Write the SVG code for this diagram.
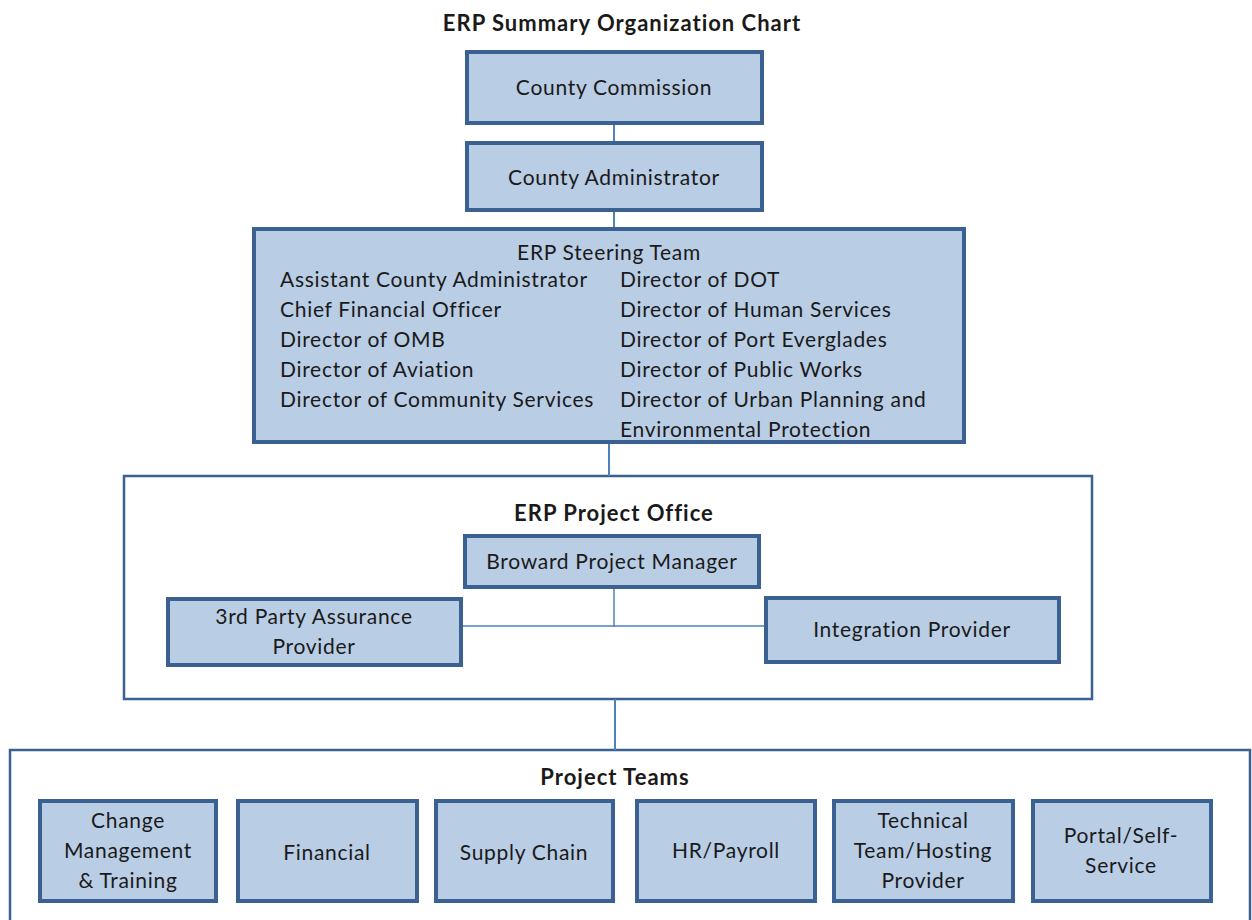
<svg xmlns="http://www.w3.org/2000/svg" width="1252" height="920" viewBox="0 0 1252 920">
  <style>
    .box { fill: #b9cde5; stroke: #3b6092; stroke-width: 4; }
    .frame { fill: #ffffff; stroke: #3b6092; stroke-width: 2.5; }
    .link { stroke: #4f81bd; stroke-width: 2; fill: none; }
    .thin { stroke: #4f81bd; stroke-width: 1.5; fill: none; }
    text { font-family: Lato, "Open Sans", "Liberation Sans", sans-serif; font-size: 21px; letter-spacing: 0.7px; fill: #1a1a1a; }
    .c { text-anchor: middle; }
    .b { font-weight: bold; font-size: 22px; letter-spacing: 1px; }
  </style>

  <rect width="1252" height="920" fill="#ffffff"/>

  <text class="c b" x="622" y="31">ERP Summary Organization Chart</text>

  <!-- containers -->
  <g id="project-office">
    <rect class="frame" x="124" y="476" width="968" height="223"/>
    <text class="c b" x="614" y="521">ERP Project Office</text>
  </g>
  <g id="project-teams">
    <rect class="frame" x="10" y="750" width="1240" height="190"/>
    <text class="c b" x="615" y="785">Project Teams</text>
  </g>

  <!-- connectors -->
  <g id="connectors">
    <line class="link" x1="614" y1="125" x2="614" y2="141"/>
    <line class="link" x1="614" y1="212" x2="614" y2="227"/>
    <line class="link" x1="609" y1="444" x2="609" y2="476"/>
    <line class="thin" x1="614" y1="589" x2="614" y2="627"/>
    <line class="thin" x1="463" y1="626" x2="764" y2="626"/>
    <line class="link" x1="615" y1="699" x2="615" y2="750"/>
  </g>

  <g id="county-commission">
    <rect class="box" x="467" y="52" width="295" height="71"/>
    <text class="c" x="614" y="95">County Commission</text>
  </g>

  <g id="county-administrator">
    <rect class="box" x="467" y="143" width="295" height="67"/>
    <text class="c" x="614" y="185">County Administrator</text>
  </g>

  <g id="steering-team">
    <rect class="box" x="254" y="229" width="710" height="213"/>
    <text class="c" x="609" y="260">ERP Steering Team</text>
    <text x="280" y="287">Assistant County Administrator</text>
    <text x="280" y="317">Chief Financial Officer</text>
    <text x="280" y="347">Director of OMB</text>
    <text x="280" y="377">Director of Aviation</text>
    <text x="280" y="407">Director of Community Services</text>
    <text x="620" y="287">Director of DOT</text>
    <text x="620" y="317">Director of Human Services</text>
    <text x="620" y="347">Director of Port Everglades</text>
    <text x="620" y="377">Director of Public Works</text>
    <text x="620" y="407">Director of Urban Planning and</text>
    <text x="620" y="437">Environmental Protection</text>
  </g>

  <g id="broward-pm">
    <rect class="box" x="465" y="536" width="294" height="51"/>
    <text class="c" x="612" y="569">Broward Project Manager</text>
  </g>

  <g id="assurance-provider">
    <rect class="box" x="168" y="599" width="293" height="66"/>
    <text class="c" x="314" y="624">3rd Party Assurance</text>
    <text class="c" x="314" y="654">Provider</text>
  </g>

  <g id="integration-provider">
    <rect class="box" x="766" y="598" width="293" height="64"/>
    <text class="c" x="912" y="637">Integration Provider</text>
  </g>

  <g id="team-change">
    <rect class="box" x="40" y="801" width="176" height="100"/>
    <text class="c" x="128" y="828">Change</text>
    <text class="c" x="128" y="858">Management</text>
    <text class="c" x="128" y="888">&amp; Training</text>
  </g>

  <g id="team-financial">
    <rect class="box" x="238" y="801" width="179" height="100"/>
    <text class="c" x="327" y="860">Financial</text>
  </g>

  <g id="team-supply">
    <rect class="box" x="436" y="801" width="177" height="100"/>
    <text class="c" x="524" y="860">Supply Chain</text>
  </g>

  <g id="team-hr">
    <rect class="box" x="637" y="801" width="178" height="100"/>
    <text class="c" x="726" y="858">HR/Payroll</text>
  </g>

  <g id="team-technical">
    <rect class="box" x="834" y="801" width="179" height="100"/>
    <text class="c" x="923" y="828">Technical</text>
    <text class="c" x="923" y="858">Team/Hosting</text>
    <text class="c" x="923" y="888">Provider</text>
  </g>

  <g id="team-portal">
    <rect class="box" x="1033" y="801" width="178" height="100"/>
    <text class="c" x="1121" y="843">Portal/Self-</text>
    <text class="c" x="1121" y="873">Service</text>
  </g>
</svg>
